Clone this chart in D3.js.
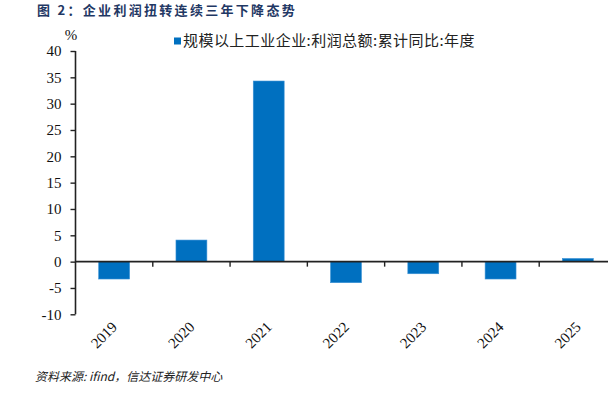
<!DOCTYPE html>
<html>
<head>
<meta charset="utf-8">
<script src="https://d3js.org/d3.v7.min.js"></script>
<style>
    body { margin: 0; background: #fff; }
    svg { display: block; }
    .tick-label { font-family: "Liberation Serif", "Times New Roman", serif; font-size: 15px; fill: #111; }
    .cjk { font-family: "Noto Sans CJK SC", sans-serif; }
</style>
</head>
<body>
<div id="chart"></div>
<script>
    const years = ["2019", "2020", "2021", "2022", "2023", "2024", "2025"];
    const profitGrowth = [-3.3, 4.1, 34.3, -4.0, -2.3, -3.3, 0.6];
    const yTicks = [40, 35, 30, 25, 20, 15, 10, 5, 0, -5, -10];

    const width = 608, height = 399;
    const plot = {left: 75.5, right: 616.5, top: 51, bottom: 314.3};

    const svg = d3.select("#chart").append("svg")
        .attr("width", width)
        .attr("height", height);

    const x = d3.scaleBand().domain(years).range([plot.left, plot.right]);
    const y = d3.scaleLinear().domain([-10, 40]).range([plot.bottom, plot.top]);
    const barW = x.step() * 0.4;

    // title
    svg.append("text")
        .attr("class", "cjk")
        .attr("x", 37).attr("y", 15)
        .style("font-size", "13px")
        .style("font-weight", "bold")
        .style("letter-spacing", "2.3px")
        .style("fill", "#1f3864")
        .text("图 2：企业利润扭转连续三年下降态势");

    // unit
    svg.append("text")
        .attr("class", "tick-label")
        .attr("x", 71).attr("y", 40)
        .style("text-anchor", "middle")
        .text("%");

    // legend
    svg.append("rect")
        .attr("x", 174).attr("y", 37.5)
        .attr("width", 7).attr("height", 7)
        .style("fill", "#0070c0");
    svg.append("text")
        .attr("class", "cjk")
        .attr("x", 183).attr("y", 45.5)
        .style("font-size", "15px")
        .style("letter-spacing", "0.45px")
        .style("fill", "#222")
        .text("规模以上工业企业:利润总额:累计同比:年度");

    // bars
    svg.selectAll(".bar")
        .data(years.map((d, i) => ({year: d, value: profitGrowth[i]})))
        .enter().append("rect")
        .attr("class", "bar")
        .attr("x", d => x(d.year) + (x.step() - barW) / 2)
        .attr("y", d => y(Math.max(0, d.value)))
        .attr("width", barW)
        .attr("height", d => Math.abs(y(d.value) - y(0)))
        .style("fill", "#0070c0")
        .style("stroke", "#3d93d6")
        .style("stroke-width", 0.6);

    // y axis
    const yAxis = svg.append("g")
        .attr("transform", "translate(" + plot.left + ",0)")
        .call(d3.axisLeft(y).tickValues(yTicks).tickSize(5).tickPadding(9).tickFormat(d3.format("d")));
    yAxis.select(".domain").attr("d", "M0," + plot.top + "V" + plot.bottom)
        .style("stroke", "#222").style("stroke-width", 1.6);
    yAxis.selectAll(".tick line").style("stroke", "#222").style("stroke-width", 1.4);
    yAxis.selectAll(".tick text").attr("class", "tick-label").style("font-size", "15px")
        .text(d => d < 0 ? "-" + Math.abs(d) : d);

    // x axis at zero
    const xAxis = svg.append("g").attr("transform", "translate(0," + y(0) + ")");
    xAxis.append("line")
        .attr("x1", plot.left).attr("x2", plot.right)
        .style("stroke", "#222").style("stroke-width", 1.6);
    xAxis.selectAll(".xtick")
        .data(years.slice(1))
        .enter().append("line")
        .attr("x1", d => x(d)).attr("x2", d => x(d))
        .attr("y1", 0).attr("y2", 5)
        .style("stroke", "#222").style("stroke-width", 1.4);

    // year labels
    svg.selectAll(".year")
        .data(years)
        .enter().append("text")
        .attr("class", "tick-label")
        .attr("transform", d => "translate(" + (x(d) + x.step() / 2 + 4) + "," + 328 + ") rotate(-45)")
        .style("text-anchor", "end")
        .text(d => d);

    // source
    svg.append("text")
        .attr("class", "cjk")
        .attr("x", 35).attr("y", 381)
        .style("font-size", "12px")
        .style("font-style", "italic")
        .style("fill", "#222")
        .text("资料来源: ifind，信达证券研发中心");
</script>
</body>
</html>
